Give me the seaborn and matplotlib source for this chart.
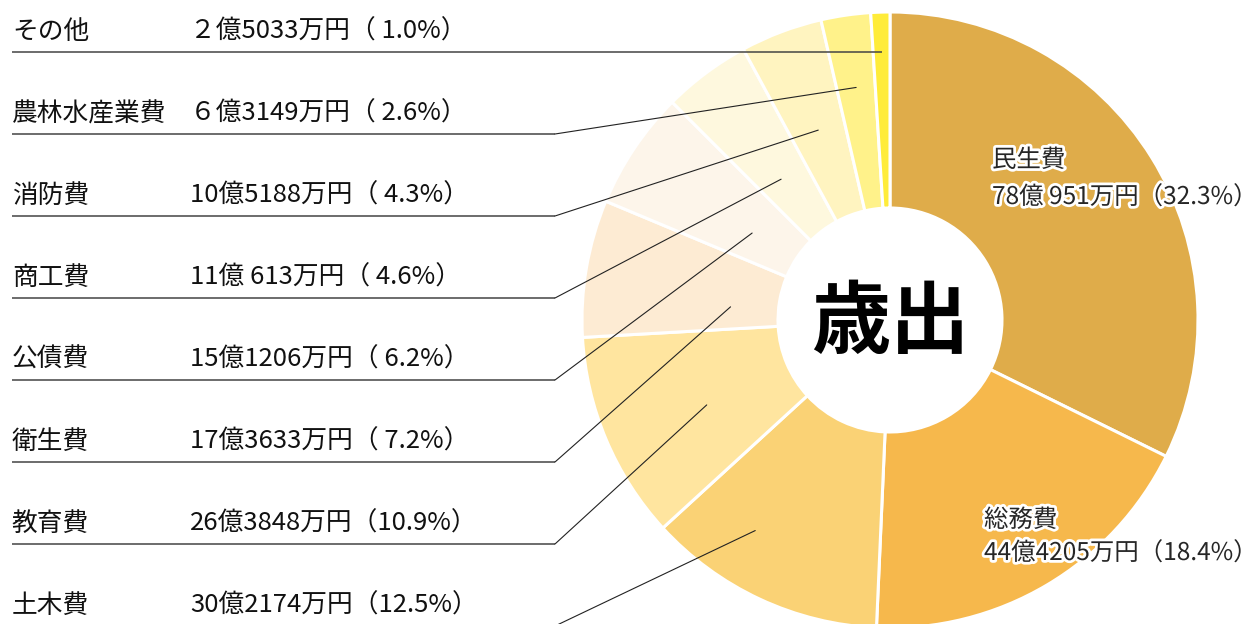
import numpy as np
import matplotlib
matplotlib.use("Agg")
import matplotlib.pyplot as plt
import matplotlib.patheffects as pe
import seaborn as sns

# ---- data ----
categories = ["民生費", "総務費", "土木費", "教育費", "衛生費", "公債費",
              "商工費", "消防費", "農林水産業費", "その他"]
amounts = ["78億 951万円", "44億4205万円", "30億2174万円", "26億3848万円",
           "17億3633万円", "15億1206万円", "11億 613万円", "10億5188万円",
           "６億3149万円", "２億5033万円"]
percents = [32.3, 18.4, 12.5, 10.9, 7.2, 6.2, 4.6, 4.3, 2.6, 1.0]
center_title = "歳出"

# ---- style / layout ----
colors = ["#DFAC4A", "#F6B84C", "#FAD275", "#FFE59F", "#FDEBD3",
          "#FDF5EA", "#FEF8DE", "#FFF4C0", "#FFF28A", "#FFEC3A"]
leader_r = [None, None, 250, 202, 160, 163, 178, 203, 235, 268]
leader_dang = [0, 0, 7.6, -2.0, -5.0, -1.6, -1.0, 0, 0, 0]   # degrees

sns.set_theme(style="white")
plt.rcParams['font.family'] = ['Noto Sans CJK JP', 'DejaVu Sans']

W, H = 1260, 624
fig = plt.figure(figsize=(12.6, 6.24), dpi=100)
ax = fig.add_axes([0, 0, 1, 1])

cx, cy_img, R, r_in = 890, 320, 308, 112
Y = lambda y: H - y
cy = Y(cy_img)

wedges, _ = ax.pie(percents, colors=colors, startangle=90, counterclock=False,
                   center=(cx, cy), radius=R,
                   wedgeprops=dict(width=R - r_in, edgecolor="white", linewidth=2.2))
ax.set_xlim(0, W)
ax.set_ylim(0, H)
ax.set_aspect("equal")
ax.axis("off")

def fmt_pct(p):
    s = f"{p:.1f}%"
    if p < 10:
        s = " " + s
    return f"（{s}）"

FS = 18.5
FS_IN = 17.6
# labels inside the two big wedges
glow = [pe.withStroke(linewidth=4, foreground="white")]
ax.text(992, Y(160), categories[0], fontsize=FS_IN, va="center", ha="left", path_effects=glow)
ax.text(992, Y(197), amounts[0] + fmt_pct(percents[0]), fontsize=FS_IN, va="center",
        ha="left", path_effects=glow)
ax.text(984, Y(520), categories[1], fontsize=FS_IN, va="center", ha="left", path_effects=glow)
ax.text(984, Y(553), amounts[1] + fmt_pct(percents[1]), fontsize=FS_IN, va="center",
        ha="left", path_effects=glow)

# center title
ax.text(cx, cy - 4, center_title, fontsize=57, fontweight="bold", ha="center", va="center",
        color="black")

# left labels with leader lines
cum = np.cumsum([0] + percents)
small_idx = list(range(9, 1, -1))  # その他 ... 土木費, top to bottom
row_y0, row_dy = 32, 82
for row, i in enumerate(small_idx):
    ty = row_y0 + row * row_dy
    uy = ty + 20
    ax.text(12, Y(ty), categories[i], fontsize=FS, va="center", ha="left", color="#111111")
    ax.text(190, Y(ty), amounts[i] + fmt_pct(percents[i]), fontsize=FS, va="center",
            ha="left", color="#111111")
    mid = np.deg2rad((cum[i] + cum[i + 1]) / 2 / 100 * 360 + leader_dang[i])
    ex = cx + leader_r[i] * np.sin(mid)
    ey = cy + leader_r[i] * np.cos(mid)
    knee = 555 if i != 9 else ex
    ax.plot([12, knee], [Y(uy), Y(uy)], color="#444444", lw=1.1, solid_capstyle="butt")
    ax.plot([knee, ex], [Y(uy), ey], color="#222222", lw=0.8)

fig.savefig("out.png", dpi=100)
